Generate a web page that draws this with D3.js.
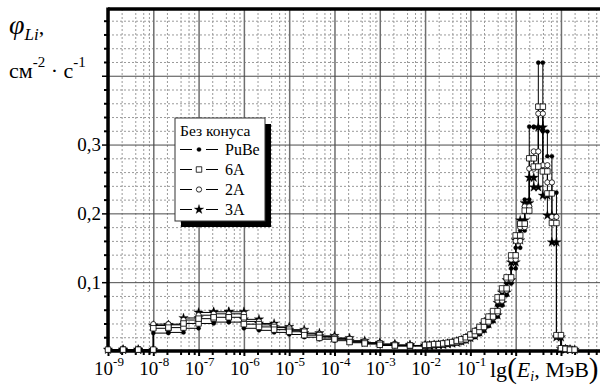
<!DOCTYPE html>
<html><head><meta charset="utf-8">
<script src="https://cdn.jsdelivr.net/npm/d3@7"></script>
<style>
body{margin:0;background:#fff}
svg{display:block}
text{font-family:"Liberation Serif","Times New Roman",serif;fill:#000}
</style>
</head><body>
<svg id="c" width="600" height="387" font-family="Liberation Serif, serif"></svg>
<script>
// Bin edges (log10 of energy, MeV)
const binEdges = [-9,-8.667,-8.333,-8,-7.667,-7.333,-7,-6.667,-6.333,-6,-5.667,-5.333,-5,-4.667,-4.333,-4,-3.667,-3.333,-3,-2.667,-2.333,
  -2,-1.9,-1.8,-1.7,-1.6,-1.5,-1.4,-1.3,-1.2,-1.1,-1,-0.9,-0.8,-0.7,-0.6,-0.5,-0.4,-0.3,-0.2,-0.1,0,0.1,0.2,0.3,0.4,0.5,0.6,0.7,0.8,0.9,1.0,1.1,1.2,1.3];
// Flux per bin for each source
const valsPuBe = [.002,.002,.002,.026,.027,.033,.040,.042,.042,.033,.030,.027,.024,.020,.017,.015,.012,.010,.008,.007,.007,
  .007,.007,.008,.008,.009,.010,.011,.012,.014,.017,.020,.024,.029,.036,.043,.050,.066,.081,.098,.120,.150,.175,.220,.326,.325,.419,.319,.283,.230,.020,.003,.002,.002];
const vals6A = [.002,.002,.002,.033,.034,.040,.047,.049,.049,.039,.035,.031,.028,.023,.019,.017,.013,.011,.009,.008,.008,
  .009,.009,.010,.010,.011,.012,.013,.015,.017,.020,.024,.029,.035,.043,.050,.058,.078,.091,.107,.139,.168,.185,.204,.280,.268,.355,.261,.229,.186,.023,.004,.003,.002];
const vals2A = [.002,.002,.002,.039,.039,.045,.052,.054,.054,.043,.038,.034,.030,.025,.021,.018,.014,.012,.010,.008,.008,
  .008,.009,.009,.010,.011,.012,.013,.014,.016,.019,.023,.028,.034,.041,.048,.055,.073,.088,.104,.133,.160,.180,.210,.265,.290,.345,.270,.245,.195,.022,.004,.003,.002];
const vals3A = [.002,.002,.002,.037,.038,.048,.056,.057,.057,.046,.040,.035,.031,.026,.022,.019,.015,.012,.010,.009,.008,
  .008,.008,.009,.009,.010,.011,.012,.014,.016,.019,.022,.027,.032,.039,.046,.052,.070,.085,.103,.129,.161,.190,.215,.252,.238,.325,.226,.197,.158,.020,.003,.002,.002];
const seriesNames = ["PuBe","6A","2A","3A"];
const legendTitle = "Без конуса";
const xTickExps = [-9,-8,-7,-6,-5,-4,-3,-2,-1,0,1];
const xLabelExps = [-9,-8,-7,-6,-5,-4,-3,-2,-1];
const xMinorMult = [2,4,6,8];
const yMajor = [0.1,0.2,0.3,0.4];
const yLabels = ["0,1","0,2","0,3"];
const yMinorStep = 0.02;

const svg = d3.select("#c");
const L = 108, R = 604, T = 9, B = 351;
const x = d3.scaleLog().domain([1e-9, Math.pow(10,1.95)]).range([L, R]);
const y = d3.scaleLinear().domain([0, 0.497]).range([B, T]);

const xMajorVals = xTickExps.map(e => Math.pow(10, e));
const xMinorVals = [];
xTickExps.forEach(e => xMinorMult.forEach(m => { const v = m*Math.pow(10,e); if (x(v) < R) xMinorVals.push(v); }));
const yMinorVals = d3.range(1, 25).map(i => +(i*yMinorStep).toFixed(2)).filter(v => !yMajor.some(m => Math.abs(m-v)<1e-9));

// Grid
const g = svg.append("g");
g.append("g").attr("transform", `translate(0,${B})`)
  .call(d3.axisBottom(x).tickValues(xMinorVals).tickSize(-(B-T)).tickFormat(""))
  .call(a => a.select(".domain").remove())
  .selectAll("line").attr("stroke","#9a9a9a").attr("stroke-width",1).attr("stroke-dasharray","2,2");
g.append("g").attr("transform", `translate(${L},0)`)
  .call(d3.axisLeft(y).tickValues(yMinorVals).tickSize(-(R-L)).tickFormat(""))
  .call(a => a.select(".domain").remove())
  .selectAll("line").attr("stroke","#9a9a9a").attr("stroke-width",1).attr("stroke-dasharray","2,2");
g.append("g").attr("transform", `translate(0,${B})`)
  .call(d3.axisBottom(x).tickValues(xMajorVals).tickSize(-(B-T)).tickFormat(""))
  .call(a => a.select(".domain").remove())
  .selectAll("line").attr("stroke","#6e6e6e").attr("stroke-width",1.5);
g.append("g").attr("transform", `translate(${L},0)`)
  .call(d3.axisLeft(y).tickValues(yMajor).tickSize(-(R-L)).tickFormat(""))
  .call(a => a.select(".domain").remove())
  .selectAll("line").attr("stroke","#4a4a4a").attr("stroke-width",1);

// Axes ticks
const ax = svg.append("g");
ax.append("g").attr("transform", `translate(0,${B})`)
  .call(d3.axisBottom(x).tickValues(xMinorVals).tickSize(4).tickFormat(""))
  .call(a => a.select(".domain").remove())
  .selectAll("line").attr("stroke","#000").attr("stroke-width",2);
ax.append("g").attr("transform", `translate(0,${B})`)
  .call(d3.axisBottom(x).tickValues(xMajorVals).tickSize(5).tickFormat(""))
  .call(a => a.select(".domain").remove())
  .selectAll("line").attr("stroke","#000").attr("stroke-width",2);
ax.append("g").attr("transform", `translate(${L},0)`)
  .call(d3.axisLeft(y).tickValues(yMinorVals).tickSize(4).tickFormat(""))
  .call(a => a.select(".domain").remove())
  .selectAll("line").attr("stroke","#000").attr("stroke-width",2);
ax.append("g").attr("transform", `translate(${L},0)`)
  .call(d3.axisLeft(y).tickValues(yMajor).tickSize(6).tickFormat(""))
  .call(a => a.select(".domain").remove())
  .selectAll("line").attr("stroke","#000").attr("stroke-width",1.5);

// Frame lines
svg.append("line").attr("x1",L).attr("x2",600).attr("y1",T).attr("y2",T).attr("stroke","#000").attr("stroke-width",3.5);
svg.append("line").attr("x1",L).attr("x2",600).attr("y1",B).attr("y2",B).attr("stroke","#000").attr("stroke-width",3.5);
svg.append("line").attr("x1",L).attr("x2",L).attr("y1",T-1.5).attr("y2",B+1.5).attr("stroke","#000").attr("stroke-width",3.5);

// Y tick labels
yLabels.forEach((t,i) => {
  svg.append("text").attr("x", 101).attr("y", y(yMajor[i])).attr("dy","0.35em")
    .attr("text-anchor","end").attr("font-size",19).text(t);
});
// X tick labels
xLabelExps.forEach(e => {
  const t = svg.append("text").attr("x", x(Math.pow(10,e))+1).attr("y", 375).attr("text-anchor","middle").attr("font-size",19);
  t.append("tspan").text("10");
  t.append("tspan").attr("font-size",13).attr("dy",-9).text("-" + Math.abs(e));
});

// Series
const series = [
  {name:"PuBe", vals: valsPuBe, sym: d3.symbolCircle, size: 14, fill:"#000"},
  {name:"6A", vals: vals6A, sym: d3.symbolSquare, size: 30, fill:"#fff"},
  {name:"2A", vals: vals2A, sym: d3.symbolCircle, size: 22, fill:"#fff"},
  {name:"3A", vals: vals3A, sym: d3.symbolStar, size: 28, fill:"#000"}
];
series.forEach(s => {
  s.pts = [];
  s.vals.forEach((v,i) => { s.pts.push([binEdges[i], v]); s.pts.push([binEdges[i+1], v]); });
});
const line = d3.line().x(d => x(Math.pow(10,d[0]))).y(d => y(d[1]));
const sg = svg.append("g");
series.forEach(s => {
  sg.append("path").attr("d", line(s.pts)).attr("fill","none").attr("stroke","#000").attr("stroke-width",1);
});
[0,3,2,1].forEach(k => {
  const s = series[k];
  sg.append("g").selectAll("path").data(s.pts).join("path")
    .attr("transform", d => `translate(${x(Math.pow(10,d[0]))},${y(d[1])})`)
    .attr("d", d3.symbol().type(s.sym).size(s.size))
    .attr("fill", s.fill).attr("stroke","#000").attr("stroke-width", s.fill === "#fff" ? 0.8 : 0.3);
});

// Legend
const lg = svg.append("g");
lg.append("rect").attr("x",181).attr("y",124).attr("width",90).attr("height",103).attr("fill","#000");
lg.append("rect").attr("x",175).attr("y",118).attr("width",90).attr("height",103).attr("fill","#fff").attr("stroke","#333").attr("stroke-width",1);
lg.append("text").attr("x",180).attr("y",136).attr("font-size",15.5).text(legendTitle);
seriesNames.forEach((n,i) => {
  const s = series[i];
  const by = 155 + i*20;
  lg.append("line").attr("x1",180).attr("x2",218).attr("y1",by-5.5).attr("y2",by-5.5).attr("stroke","#000").attr("stroke-width",1.2);
  lg.append("rect").attr("x",192).attr("y",by-9).attr("width",14).attr("height",7).attr("fill","#fff");
  lg.append("path").attr("transform",`translate(199,${by-5.5})`).attr("d", d3.symbol().type(s.sym).size(s.size))
    .attr("fill", s.fill).attr("stroke","#000").attr("stroke-width", s.fill === "#fff" ? 0.8 : 0.3);
  lg.append("text").attr("x",225).attr("y",by).attr("font-size",16).text(n);
});

// Y title
const yt1 = svg.append("text").attr("x",9).attr("y",34).attr("font-size",28);
yt1.append("tspan").attr("font-style","italic").text("φ");
yt1.append("tspan").attr("font-style","italic").attr("font-size",17).attr("dy",6).text("Li");
yt1.append("tspan").attr("font-size",22).attr("dy",-6).text(",");
const yt2 = svg.append("text").attr("x",9).attr("y",78).attr("font-size",22);
yt2.append("tspan").text("см");
yt2.append("tspan").attr("font-size",15).attr("dy",-11).text("-2");
yt2.append("tspan").attr("dy",11).text(" · с");
yt2.append("tspan").attr("font-size",15).attr("dy",-11).text("-1");

// X title
const xt = svg.append("text").attr("x",490).attr("y",377).attr("font-size",22);
xt.append("tspan").text("lg");
xt.append("tspan").attr("font-size",29).attr("dy",1).text("(");
xt.append("tspan").attr("font-style","italic").attr("dy",-1).text("E");
xt.append("tspan").attr("font-style","italic").attr("font-size",14).attr("dy",4).text("i");
xt.append("tspan").attr("dy",-4).text(", МэВ");
xt.append("tspan").attr("font-size",29).attr("dy",1).text(")");
</script>
</body></html>
